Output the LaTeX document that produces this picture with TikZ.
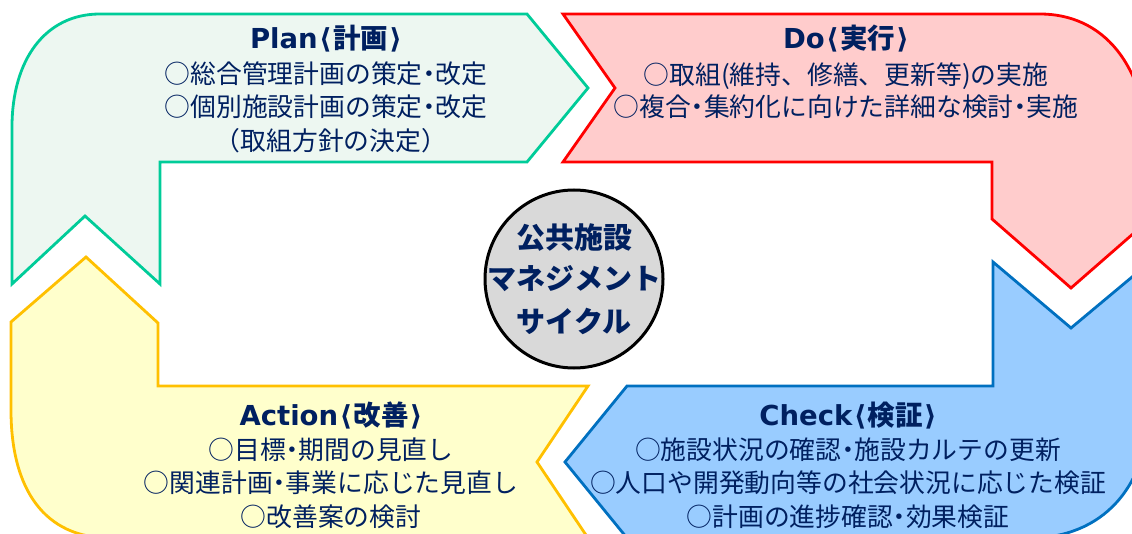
\documentclass[tikz,border=0pt]{standalone}
\usepackage{fontspec}
\setmainfont{Noto Sans CJK JP}
\newfontfamily\titlelatin{DejaVu Sans}
\newcommand\jdot{{\addfontfeatures{RawFeature=+palt}・}}
\newcommand\lbrk{{\titlelatin\kern.05em ⟨\kern.05em}}
\newcommand\rbrk{{\titlelatin\kern.05em ⟩}}
\definecolor{plangreen}{HTML}{00CC99}
\definecolor{planfill}{HTML}{EDF7F1}
\definecolor{dored}{HTML}{FF0000}
\definecolor{dofill}{HTML}{FFCCCC}
\definecolor{checkblue}{HTML}{0070C0}
\definecolor{checkfill}{HTML}{99CCFF}
\definecolor{actyellow}{HTML}{FFC000}
\definecolor{actfill}{HTML}{FFFFCC}
\definecolor{navytext}{HTML}{002060}
\definecolor{hubgray}{HTML}{D9D9D9}
\begin{document}
\begin{tikzpicture}[x=1pt,y=-1pt,
  phase/.style={line width=2.8pt, line join=miter},
  planshape/.style={phase, draw=plangreen, fill=planfill},
  doshape/.style={phase, draw=dored, fill=dofill},
  checkshape/.style={phase, draw=checkblue, fill=checkfill},
  actshape/.style={phase, draw=actyellow, fill=actfill},
  bodytext/.style={text=navytext, font=\fontsize{25.8}{30}\selectfont, inner sep=0pt, anchor=base},
  titletext/.style={text=navytext, font=\bfseries\fontsize{27.5}{32}\selectfont, inner sep=0pt, anchor=base},
  hubtext/.style={text=navytext, font=\bfseries\fontsize{29}{34}\selectfont, inner sep=0pt, anchor=base}]
\useasboundingbox (0,0) rectangle (1132,534);
\clip (0,0) rectangle (1132,534);
\fill[white] (0,0) rectangle (1132,534);

% Plan (green)
\path[planshape] (100,14) -- (527,14) -- (588,88) -- (527,162) -- (160,162) -- (160,284)
  -- (85,216) -- (12,284) -- (12,127) .. controls (12,60) and (45,14) .. (100,14) -- cycle;
% Do (red)
\path[doshape] (563,14) -- (1040,14) .. controls (1100,14) and (1150,60) .. (1150,170)
  -- (1150,219) -- (1071,288) -- (992,219) -- (992,162) -- (563,162) -- (615,88) -- cycle;
% Check (blue)
\path[checkshape] (993,262) -- (1071,328) -- (1150,262) -- (1150,400)
  .. controls (1150,490) and (1100,538) .. (1030,538) -- (627,538) -- (565,462)
  -- (627,386) -- (993,386) -- cycle;
% Action (yellow)
\path[actshape] (86,257) -- (158,323) -- (158,386) -- (588,386) -- (537,462) -- (588,538)
  -- (110,538) .. controls (45,538) and (11,490) .. (11,410) -- (11,322) -- cycle;

% hub
\node[circle, draw=black, line width=3pt, fill=hubgray, minimum size=178pt, inner sep=0pt] (hub) at (574,279) {};
\node[hubtext] (hub1) at (574,249) {公共施設};
\node[hubtext] (hub2) at (574,290) {マネジメント};
\node[hubtext] (hub3) at (574,333) {サイクル};

% Plan text
\node[titletext] (plantitle) at (326,49) {{\titlelatin Plan}\lbrk 計画\rbrk};
\node[bodytext] (plan1) at (326,83.5) {○総合管理計画の策定\jdot 改定};
\node[bodytext] (plan2) at (326,117) {○個別施設計画の策定\jdot 改定};
\node[bodytext] (plan3) at (331,150.5) {（取組方針の決定）};

% Do text
\node[titletext] (dotitle) at (846,49) {{\titlelatin Do}\lbrk 実行\rbrk};
\node[bodytext] (do1) at (846,84.5) {○取組(維持、修繕、更新等)の実施};
\node[bodytext] (do2) at (846,116.5) {○複合\jdot 集約化に向けた詳細な検討\jdot 実施};

% Action text
\node[titletext] (acttitle) at (331,425) {{\titlelatin Action}\lbrk 改善\rbrk};
\node[bodytext] (act1) at (331,459.5) {○目標\jdot 期間の見直し};
\node[bodytext] (act2) at (331,492.5) {○関連計画\jdot 事業に応じた見直し};
\node[bodytext] (act3) at (331,526.5) {○改善案の検討};

% Check text
\node[titletext] (chktitle) at (848,425) {{\titlelatin Check}\lbrk 検証\rbrk};
\node[bodytext] (chk1) at (848,459.5) {○施設状況の確認\jdot 施設カルテの更新};
\node[bodytext] (chk2) at (848,492.5) {○人口や開発動向等の社会状況に応じた検証};
\node[bodytext] (chk3) at (848,526.5) {○計画の進捗確認\jdot 効果検証};
\end{tikzpicture}
\end{document}
